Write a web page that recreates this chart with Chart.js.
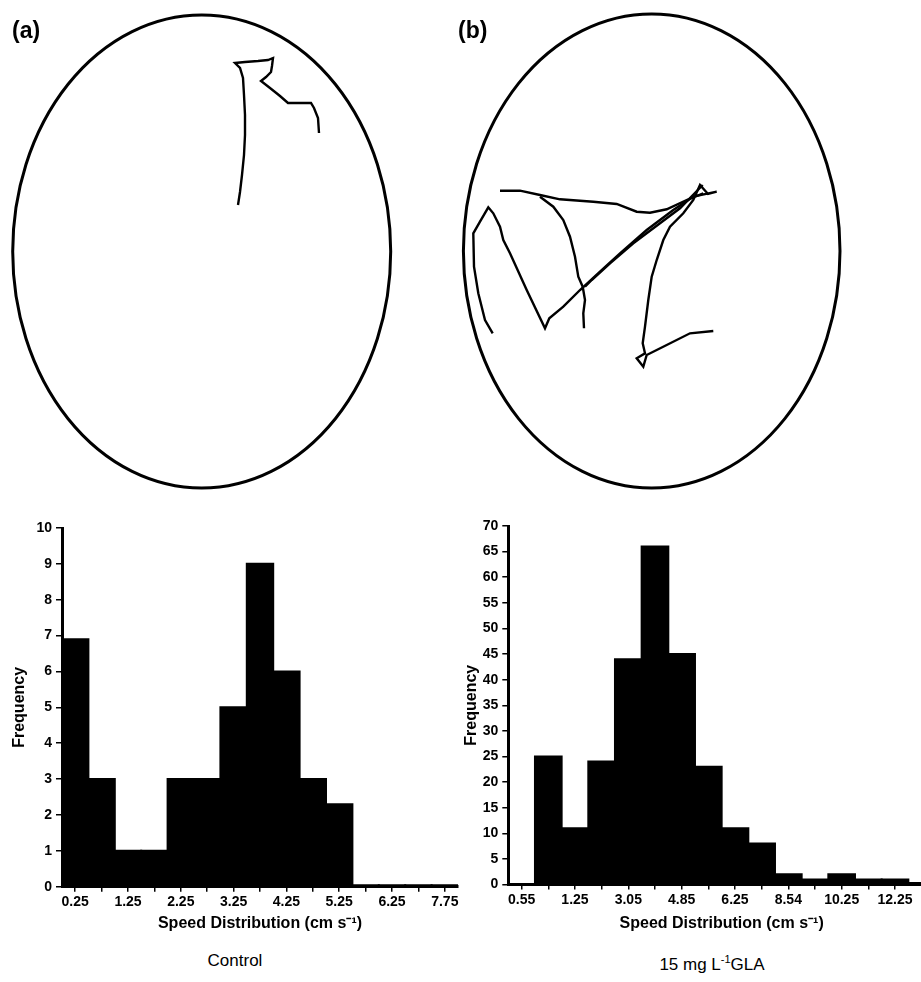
<!DOCTYPE html>
<html>
<head>
<meta charset="utf-8">
<script src="https://cdn.jsdelivr.net/npm/chart.js@4.4.1/dist/chart.umd.min.js"></script>
<style>
  html, body { margin: 0; padding: 0; background: #fff; overflow: hidden; }
  body { width: 921px; height: 982px; position: relative; font-family: "Liberation Sans", Arial, sans-serif; }
  .box { position: absolute; }
  .panel { position: absolute; font-weight: bold; font-size: 23px; line-height: 23px; color: #000; }
  .caption { position: absolute; font-size: 17px; line-height: 20px; color: #000; text-align: center; }
  .caption sup { font-size: 11px; }
</style>
</head>
<body>
<div class="box" style="left:0;top:0;width:921px;height:500px"><canvas id="tracks"></canvas></div>
<div class="box" style="left:0;top:510px;width:470px;height:430px"><canvas id="histControl"></canvas></div>
<div class="box" style="left:460px;top:510px;width:480px;height:430px"><canvas id="histGLA"></canvas></div>
<div class="panel" style="left:12px;top:19px">(a)</div>
<div class="panel" style="left:458px;top:19px">(b)</div>
<div class="caption" style="left:135px;top:951px;width:200px">Control</div>
<div class="caption" style="left:612px;top:949px;width:200px">15 mg L<sup>-1</sup>GLA</div>
<script>
// speed bins (cm s-1) and frequencies
const binsControl = ['0.25', '0.75', '1.25', '1.75', '2.25', '2.75', '3.25', '3.75', '4.25', '4.75', '5.25', '5.75', '6.25', '6.75', '7.75'];
const freqControl = [6.9, 3, 1, 1, 3, 3, 5, 9, 6, 3, 2.3, 0.04, 0.04, 0.04, 0.04];

const binsGLA = ['0.55', '0.90', '1.25', '2.15', '3.05', '3.95', '4.85', '5.55', '6.25', '7.40', '8.54', '9.40', '10.25', '11.25', '12.25', '13.25'];
const freqGLA = [0, 25, 11, 24, 44, 66, 45, 23, 11, 8, 2, 1, 2, 1, 1, 0.3];

// arena outlines and swimming tracks (image coordinates)
const arenas = [
  { cx: 201.7, cy: 251.5, rx: 189, ry: 236.5 },
  { cx: 651.7, cy: 251, rx: 188.3, ry: 237 }
];
const trackControl = [
  [238,205],[240,192],[242,175],[244,155],[245,135],[245,115],[244,95],[243,78],[240,68],[235,63],
  [245,62],[258,61],[268,60],[273,58],[272,66],[271,72],[266,77],[261,81],[270,88],[280,96],
  [288,103],[300,103],[311,103],[314,108],[318,118],[319,133]
];
const trackGLA1 = [
  [492.7,333.3],[485,320],[478.3,293.3],[474,266.7],[473.3,233.3],[480,221.7],[488.3,207.3],
  [493.3,213.3],[500,226.7],[503.3,240],[510,253.3],[526.7,290],[545,328.3],[549.3,318.3],
  [563.3,306.7],[580,290],[600,271.7],[620,253.3],[646.7,230],[673.3,210],[693.3,196.7],[716.7,191.7],
  [708,194],[700,185],[693.3,200],[683.3,213.3],[670,226.7],[663.3,240],[656.7,260],[651.7,276.7],
  [648.3,300],[645,326.7],[642.7,343.3],[645,353.3],[636.7,358.3],[643.3,366.7],[646.7,355],
  [666.7,345],[690,333.3],[713.3,331]
];
const trackGLA2 = [
  [500,190.7],[520,190.7],[540,195],[560,199.3],[593.3,201.7],[616.7,204],[636.7,211.7],
  [650,212.7],[666.7,209.3],[686.7,200],[703.3,193.3]
];
const trackGLA3 = [
  [540,196.7],[553.3,206.7],[563.3,220],[570,236.7],[575,256.7],[578.3,276.7],[582.7,286.7],
  [585,300],[583.3,313.3],[584,328.3]
];
const trackGLA4 = [
  [585,286.7],[591.7,280],[610,263.3],[633.3,243.3],[660,223.3],[680,208.3],[702.7,185]
];

const toXY = pts => pts.map(p => ({ x: p[0], y: p[1] }));
const line = pts => ({
  data: toXY(pts), showLine: true, borderColor: '#000', borderWidth: 2.4,
  pointRadius: 0, tension: 0, fill: false
});

const arenaPlugin = {
  id: 'arenas',
  beforeDatasetsDraw(chart) {
    const { ctx, scales: { x, y } } = chart;
    ctx.save();
    ctx.strokeStyle = '#000';
    ctx.lineWidth = 3;
    arenas.forEach(a => {
      const px = x.getPixelForValue(a.cx);
      const py = y.getPixelForValue(a.cy);
      const rx = Math.abs(x.getPixelForValue(a.cx + a.rx) - px);
      const ry = Math.abs(y.getPixelForValue(a.cy + a.ry) - py);
      ctx.beginPath();
      ctx.ellipse(px, py, rx, ry, 0, 0, Math.PI * 2);
      ctx.stroke();
    });
    ctx.restore();
  }
};

new Chart(document.getElementById('tracks'), {
  type: 'scatter',
  data: { datasets: [trackControl, trackGLA1, trackGLA2, trackGLA3, trackGLA4].map(line) },
  options: {
    responsive: true, maintainAspectRatio: false, animation: false,
    layout: { padding: 0 },
    plugins: { legend: { display: false }, tooltip: { enabled: false } },
    scales: {
      x: { type: 'linear', min: 0, max: 921, display: false },
      y: { type: 'linear', min: 0, max: 500, reverse: true, display: false }
    }
  },
  plugins: [arenaPlugin]
});

const tickFont = { family: '"Liberation Sans", Arial, sans-serif', size: 14, weight: 'bold' };
const titleFont = { family: '"Liberation Sans", Arial, sans-serif', size: 16, weight: 'bold' };

function histogram(id, labels, values, yMax, yStep, showStep, yWidth, xHeight, padding) {
  return new Chart(document.getElementById(id), {
    type: 'bar',
    data: {
      labels,
      datasets: [{
        data: values, backgroundColor: '#000', borderWidth: 0, inflateAmount: 1,
        barPercentage: 1, categoryPercentage: 1
      }]
    },
    options: {
      responsive: true, maintainAspectRatio: false, animation: false,
      layout: { padding },
      plugins: { legend: { display: false }, tooltip: { enabled: false } },
      scales: {
        x: {
          grid: { offset: false, drawOnChartArea: false, tickLength: 5, tickColor: '#000', lineWidth: 1.5 },
          border: { display: true, color: '#000', width: 3 },
          ticks: {
            autoSkip: false, maxRotation: 0, padding: 2, color: '#000', font: tickFont,
            callback: (v, i) => (i % 2 === 0 ? labels[i] : '')
          },
          title: { display: true, text: 'Speed Distribution (cm s⁻¹)', color: '#000', font: titleFont, padding: 0 },
          afterFit: s => { s.height = xHeight; }
        },
        y: {
          min: 0, max: yMax,
          grid: { drawOnChartArea: false, tickLength: 6, tickColor: '#000', lineWidth: 1.5 },
          border: { display: true, color: '#000', width: 3 },
          ticks: {
            stepSize: yStep, padding: 4, color: '#000', font: tickFont,
            callback: v => (Math.abs(v / showStep - Math.round(v / showStep)) < 1e-6 ? v : '')
          },
          title: { display: true, text: 'Frequency', color: '#000', font: titleFont, padding: 0 },
          afterFit: s => { s.width = yWidth; }
        }
      }
    }
  });
}

histogram('histControl', binsControl, freqControl, 10, 0.5, 1, 52, 46.3,
  { left: 10, top: 18, right: 12, bottom: 7 });
histogram('histGLA', binsGLA, freqGLA, 70, 5, 5, 46.3, 48.5,
  { left: 2, top: 16, right: 5, bottom: 7 });
</script>
</body>
</html>
